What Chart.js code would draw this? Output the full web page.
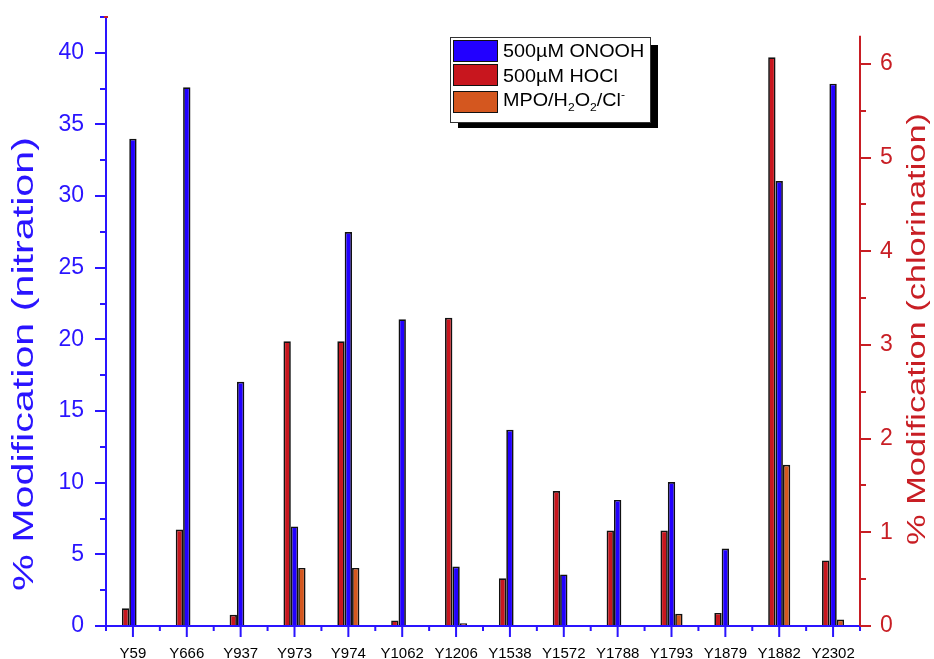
<!DOCTYPE html>
<html>
<head>
<meta charset="utf-8">
<script src="https://cdn.jsdelivr.net/npm/chart.js@4.4.1/dist/chart.umd.min.js"></script>
<style>
  html, body { margin: 0; padding: 0; background: #ffffff; }
  canvas { display: block; }
</style>
</head>
<body>
<canvas id="chart" width="934" height="659"></canvas>
<script>
// Tyrosine sites and their modification levels
const sites = ['Y59', 'Y666', 'Y937', 'Y973', 'Y974', 'Y1062', 'Y1206', 'Y1538', 'Y1572', 'Y1788', 'Y1793', 'Y1879', 'Y1882', 'Y2302'];
const onoohNitration = [34.0, 37.6, 17.05, 6.95, 27.5, 21.4, 4.15, 13.7, 3.6, 8.8, 10.05, 5.4, 31.05, 37.85];
const hoclChlorination = [0.19, 1.03, 0.12, 3.04, 3.04, 0.06, 3.29, 0.51, 1.44, 1.02, 1.02, 0.14, 6.07, 0.70];
const mpoChlorination = [null, null, null, 0.62, 0.62, null, 0.03, null, 0.01, null, 0.13, null, 1.72, 0.07];

// Axis tick values
const nitrationTicks = [0, 5, 10, 15, 20, 25, 30, 35, 40];
const chlorinationTicks = [0, 1, 2, 3, 4, 5, 6];
const nitrationMinorStep = 2.5;
const chlorinationMinorStep = 0.5;
const chlorinationAxisTop = 6.3;

const BLUE = '#2200ff';
const BLUE_AXIS = '#2a14ff';
const RED = '#c8161e';
const RED_AXIS = '#c81e24';
const ORANGE = '#d4571f';
const FONT = "'Liberation Sans', Arial, sans-serif";

// Axis lines, major and minor tick marks
const axisFrame = {
  id: 'axisFrame',
  afterDatasetsDraw(chart) {
    const ctx = chart.ctx;
    const x = chart.scales.x, yL = chart.scales.yL, yR = chart.scales.yR;
    const area = chart.chartArea;
    ctx.save();
    ctx.lineWidth = 2;
    ctx.lineCap = 'butt';

    // left axis (nitration)
    ctx.strokeStyle = BLUE_AXIS;
    ctx.beginPath();
    ctx.moveTo(area.left, area.top);
    ctx.lineTo(area.left, area.bottom + 1);
    for (let v = 0; v <= yL.max + 1e-9; v += nitrationMinorStep) {
      const py = Math.round(yL.getPixelForValue(v));
      const major = Math.abs(v / 5 - Math.round(v / 5)) < 1e-6;
      ctx.moveTo(area.left - (major ? 11 : 6), py);
      ctx.lineTo(area.left, py);
    }
    ctx.stroke();

    // bottom axis (sites)
    ctx.beginPath();
    ctx.moveTo(area.left - 1, area.bottom);
    ctx.lineTo(area.right + 1, area.bottom);
    for (let i = 0; i < sites.length; i++) {
      const px = x.getPixelForValue(i);
      ctx.moveTo(px, area.bottom);
      ctx.lineTo(px, area.bottom + 11);
    }
    for (let i = 0; i <= sites.length; i++) {
      const px = x.getPixelForValue(i - 0.5);
      ctx.moveTo(px, area.bottom);
      ctx.lineTo(px, area.bottom + 5);
    }
    ctx.stroke();

    // right axis (chlorination)
    ctx.strokeStyle = RED_AXIS;
    ctx.beginPath();
    ctx.moveTo(area.right, yR.getPixelForValue(chlorinationAxisTop));
    ctx.lineTo(area.right, area.bottom);
    for (let v = 0; v <= chlorinationAxisTop + 1e-9; v += chlorinationMinorStep) {
      const py = Math.round(yR.getPixelForValue(v));
      const major = Math.abs(v - Math.round(v)) < 1e-6;
      ctx.moveTo(area.right, py);
      ctx.lineTo(area.right + (major ? 11 : 6), py);
    }
    ctx.stroke();

    // small red cap at top of left axis
    ctx.beginPath();
    ctx.moveTo(area.left - 2, area.top);
    ctx.lineTo(area.left + 2, area.top);
    ctx.stroke();
    ctx.restore();
  }
};

function drawVerticalTitle(ctx, text, cx, cy, size, length, color) {
  ctx.save();
  ctx.font = size + 'px ' + FONT;
  const w = ctx.measureText(text).width;
  ctx.translate(cx, cy);
  ctx.rotate(-Math.PI / 2);
  ctx.scale(length / w, 1);
  ctx.fillStyle = color;
  ctx.textAlign = 'center';
  ctx.textBaseline = 'middle';
  ctx.fillText(text, 0, 0);
  ctx.restore();
}

// draws a run of text pieces; each piece may be shifted as sub/superscript
function drawRichText(ctx, pieces, x, baseline, size, stretch) {
  ctx.save();
  ctx.translate(x, baseline);
  ctx.scale(stretch, 1);
  ctx.fillStyle = '#000';
  ctx.textBaseline = 'alphabetic';
  ctx.textAlign = 'left';
  let cx = 0;
  for (const p of pieces) {
    const s = p.sub || p.sup ? Math.round(size * 0.62) : size;
    ctx.font = s + 'px ' + FONT;
    const dy = p.sub ? size * 0.3 : (p.sup ? -size * 0.42 : 0);
    ctx.fillText(p.t, cx, dy);
    cx += ctx.measureText(p.t).width;
  }
  ctx.restore();
}

const overlay = {
  id: 'overlay',
  afterDraw(chart) {
    const ctx = chart.ctx;
    drawVerticalTitle(ctx, '% Modification (nitration)', 25, 364, 30, 454, BLUE_AXIS);
    drawVerticalTitle(ctx, '% Modification (chlorination)', 918, 329, 26, 432, RED_AXIS);

    // legend box with drop shadow
    const bx = 450, by = 37, bw = 200, bh = 85;
    ctx.save();
    ctx.fillStyle = '#000';
    ctx.fillRect(bx + 8, by + 8, bw, bh - 2);
    ctx.fillStyle = '#fff';
    ctx.fillRect(bx, by, bw, bh);
    ctx.strokeStyle = '#333';
    ctx.lineWidth = 1;
    ctx.strokeRect(bx + 0.5, by + 0.5, bw, bh);

    const order = [1, 0, 2];
    const rows = [
      [{ t: '500µM ONOOH' }],
      [{ t: '500µM HOCl' }],
      [{ t: 'MPO/H' }, { t: '2', sub: true }, { t: 'O' }, { t: '2', sub: true }, { t: '/Cl' }, { t: '-', sup: true }]
    ];
    const swatchTop = [40, 64, 91];
    const baselines = [57, 82, 106];
    order.forEach((di, r) => {
      const ds = chart.data.datasets[di];
      ctx.fillStyle = ds.backgroundColor;
      ctx.fillRect(453, swatchTop[r], 44, 21);
      ctx.strokeStyle = '#111';
      ctx.strokeRect(453.5, swatchTop[r] + 0.5, 44, 21);
      drawRichText(ctx, rows[r], 503, baselines[r], 18, 1.1);
    });
    ctx.restore();
  }
};

function noEdgePadding(s) {
  s.paddingTop = 0; s.paddingBottom = 0; s.paddingLeft = 0; s.paddingRight = 0;
}

new Chart(document.getElementById('chart'), {
  type: 'bar',
  data: {
    labels: sites,
    datasets: [
      { label: '500µM HOCl', data: hoclChlorination, yAxisID: 'yR', backgroundColor: RED },
      { label: '500µM ONOOH', data: onoohNitration, yAxisID: 'yL', backgroundColor: BLUE },
      { label: 'MPO/H2O2/Cl-', data: mpoChlorination, yAxisID: 'yR', backgroundColor: ORANGE }
    ]
  },
  options: {
    responsive: false,
    animation: false,
    layout: { padding: { top: 17, left: 0, right: 0, bottom: 0 } },
    datasets: {
      bar: {
        categoryPercentage: 0.41,
        barPercentage: 1,
        borderColor: '#111111',
        borderWidth: 1.7,
        borderSkipped: 'start'
      }
    },
    plugins: { legend: { display: false }, tooltip: { enabled: false } },
    scales: {
      x: {
        offset: true,
        grid: { display: false, drawTicks: false },
        border: { display: false },
        ticks: { color: '#000', font: { family: FONT, size: 15 }, padding: 19, autoSkip: false, maxRotation: 0 },
        afterFit(s) { s.height = 33; noEdgePadding(s); }
      },
      yL: {
        position: 'left',
        min: 0,
        max: 42.5,
        afterBuildTicks(s) { s.ticks = nitrationTicks.map(v => ({ value: v })); },
        grid: { display: false, drawTicks: false },
        border: { display: false },
        ticks: { color: BLUE_AXIS, font: { family: FONT, size: 23 }, padding: 22 },
        afterFit(s) { s.width = 106; noEdgePadding(s); }
      },
      yR: {
        position: 'right',
        min: 0,
        max: 6.5,
        afterBuildTicks(s) { s.ticks = chlorinationTicks.map(v => ({ value: v })); },
        grid: { display: false, drawTicks: false },
        border: { display: false },
        ticks: { color: RED_AXIS, font: { family: FONT, size: 23 }, padding: 20 },
        afterFit(s) { s.width = 74; noEdgePadding(s); }
      }
    }
  },
  plugins: [axisFrame, overlay]
});
</script>
</body>
</html>
